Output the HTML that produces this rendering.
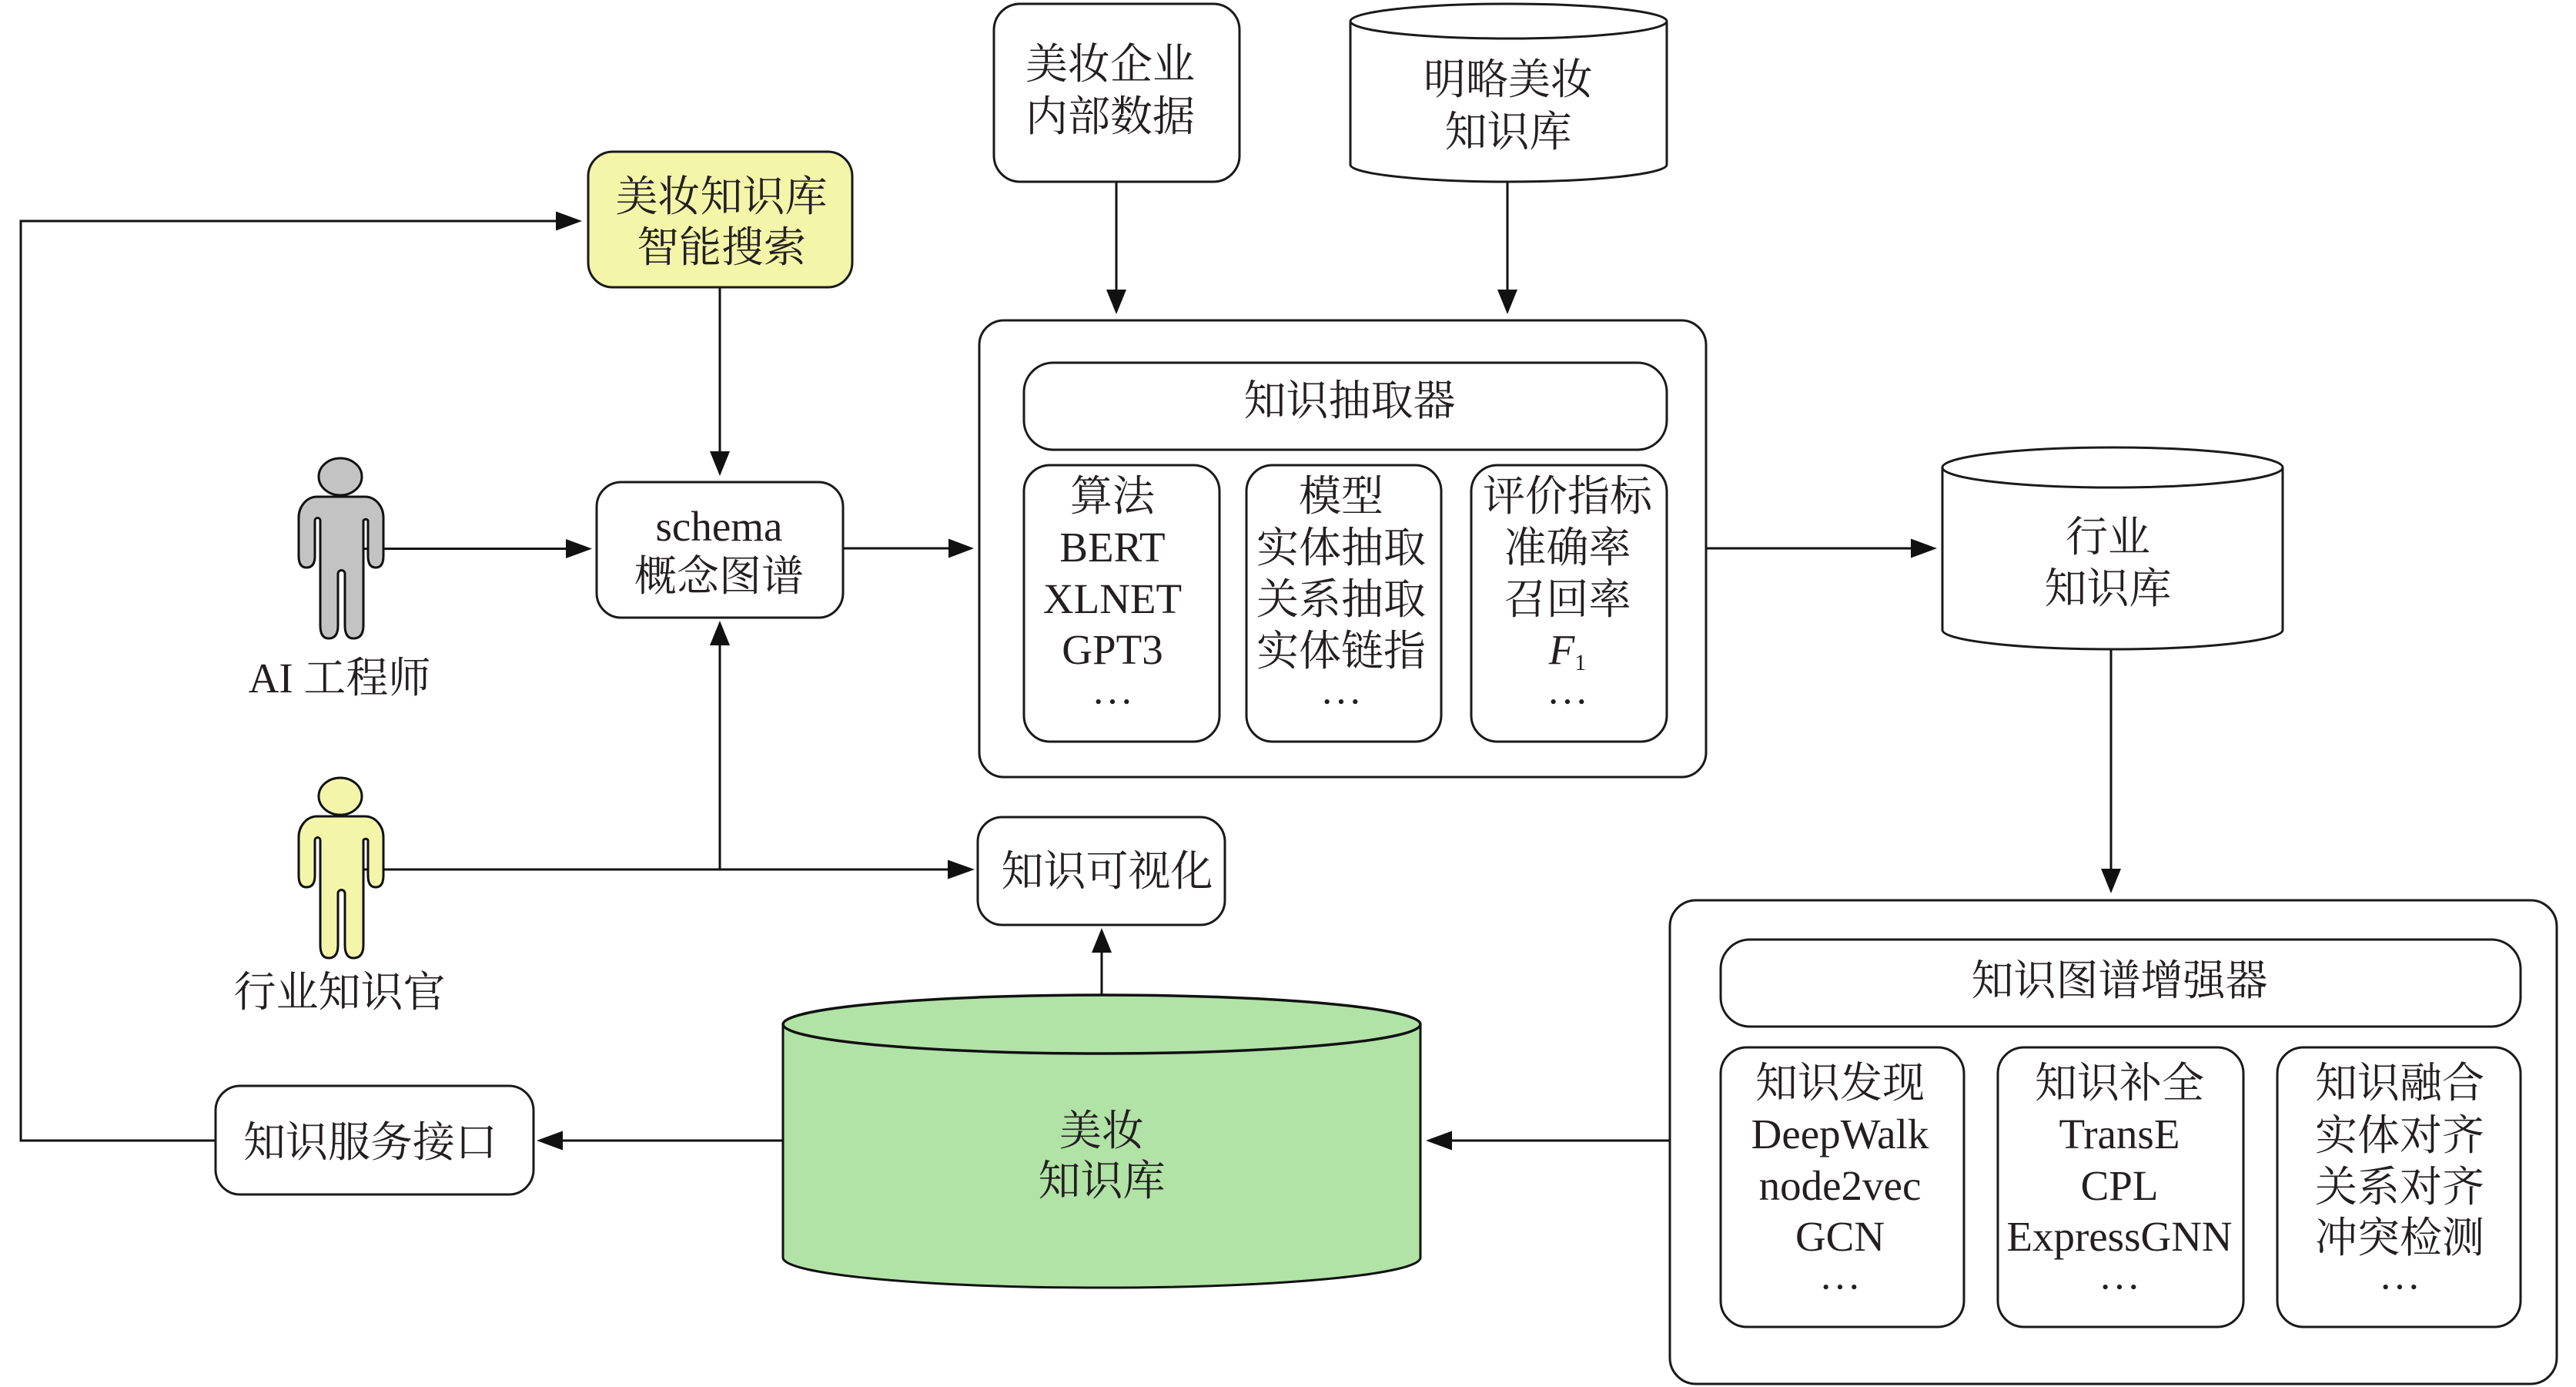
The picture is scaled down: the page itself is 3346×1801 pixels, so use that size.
<!DOCTYPE html>
<html lang="zh">
<head>
<meta charset="utf-8">
<title>美妆知识库架构</title>
<style>
html,body{margin:0;padding:0;background:#fff;width:3346px;height:1801px;overflow:hidden}
svg{display:block}
text{font-family:"Liberation Serif","Noto Serif CJK SC",serif;font-size:55px;fill:#231f20;text-anchor:middle}
.d{font-family:"Noto Serif CJK SC",serif}
.b{fill:#fff;stroke:#1a1a1a;stroke-width:3}
.l{fill:none;stroke:#111;stroke-width:3}
.a{fill:#111;stroke:none}
</style>
</head>
<body>
<svg xmlns="http://www.w3.org/2000/svg" width="3346" height="1801" viewBox="0 0 3346 1801">
<rect width="3346" height="1801" fill="#fff"/>

<!-- connectors -->
<path class="l" d="M280,1481 H27 V287 H725"/>
<polygon class="a" points="756,287 722,274.500 722,299.500"/>
<path class="l" d="M935,373 V590"/>
<polygon class="a" points="935,618 922,586 948,586"/>
<path class="l" d="M472,712.500 H738"/>
<polygon class="a" points="769,712.500 735,700 735,725"/>
<path class="l" d="M1095,712 H1235"/>
<polygon class="a" points="1265,712 1232,699.500 1232,724.500"/>
<path class="l" d="M1450,236 V380"/>
<polygon class="a" points="1450,408 1437,376 1463,376"/>
<path class="l" d="M1958,236 V380"/>
<polygon class="a" points="1958,408 1945,376 1971,376"/>
<path class="l" d="M2216,712 H2485"/>
<polygon class="a" points="2516,712 2482,699.500 2482,724.500"/>
<path class="l" d="M2742,843 V1132"/>
<polygon class="a" points="2742,1160 2729,1128 2755,1128"/>
<path class="l" d="M472,1129 H1235"/>
<polygon class="a" points="1266,1129 1231,1116.500 1231,1141.500"/>
<path class="l" d="M935,1129 V835"/>
<polygon class="a" points="935,806 922,838 948,838"/>
<path class="l" d="M1431,1292 V1234"/>
<polygon class="a" points="1431,1205 1418,1237 1444,1237"/>
<path class="l" d="M1016,1481 H728"/>
<polygon class="a" points="697,1481 731,1468.500 731,1493.500"/>
<path class="l" d="M2169,1481 H1882"/>
<polygon class="a" points="1852,1481 1886,1468.500 1886,1493.500"/>

<!-- yellow search box -->
<rect x="764" y="197" width="343" height="176" rx="32" ry="32" fill="#f3f5a9" stroke="#1a1a1a" stroke-width="3"/>
<text x="937" y="274">美妆知识库</text>
<text x="937" y="340">智能搜索</text>

<!-- schema -->
<rect class="b" x="775" y="626" width="320" height="176" rx="32" ry="32"/>
<text x="934" y="702">schema</text>
<text x="934" y="767">概念图谱</text>

<!-- persons -->
<g fill="#c3c3c3" stroke="#111" stroke-width="3">
<ellipse cx="442" cy="619" rx="28" ry="24"/>
<path d="M412,645 H474 C488,645 498,658 498,672 V722 Q498,737 488,737 Q478,737 478,722 V676 A3.500,3.500 0 0 0 472,676 V812 Q472,829 459,829 Q448,829 448,812 V745 A4.500,4.500 0 0 0 439,745 V812 Q439,829 427,829 Q416,829 416,812 V676 A3.500,3.500 0 0 0 409,676 V722 Q409,737 398,737 Q388,737 388,722 V672 C388,658 398,645 412,645 Z"/>
</g>
<g fill="#f3f5a9" stroke="#111" stroke-width="3" transform="translate(0,415)">
<ellipse cx="442" cy="619" rx="28" ry="24"/>
<path d="M412,645 H474 C488,645 498,658 498,672 V722 Q498,737 488,737 Q478,737 478,722 V676 A3.500,3.500 0 0 0 472,676 V812 Q472,829 459,829 Q448,829 448,812 V745 A4.500,4.500 0 0 0 439,745 V812 Q439,829 427,829 Q416,829 416,812 V676 A3.500,3.500 0 0 0 409,676 V722 Q409,737 398,737 Q388,737 388,722 V672 C388,658 398,645 412,645 Z"/>
</g>
<text x="441" y="899">AI 工程师</text>
<text x="441" y="1307">行业知识官</text>

<!-- top sources -->
<rect class="b" x="1291" y="5" width="319" height="231" rx="34" ry="34"/>
<text x="1442" y="102">美妆企业</text>
<text x="1442" y="170">内部数据</text>

<path class="b" d="M1764,28" style="display:none"/>
<path class="b" d="M1754,28 V214 C1754,226 1850,236 1959.500,236 C2069,236 2165,226 2165,214 V28"/>
<ellipse class="b" cx="1959.500" cy="27.500" rx="205.500" ry="22.500"/>
<text x="1959" y="122">明略美妆</text>
<text x="1959" y="190">知识库</text>

<!-- extractor -->
<rect class="b" x="1272" y="416" width="944" height="593" rx="32" ry="32"/>
<rect class="b" x="1330" y="471" width="835" height="113" rx="38" ry="38"/>
<text x="1753" y="539">知识抽取器</text>

<rect class="b" x="1330" y="604" width="254" height="359" rx="34" ry="34"/>
<rect class="b" x="1619" y="604" width="253" height="359" rx="34" ry="34"/>
<rect class="b" x="1911" y="604" width="254" height="359" rx="34" ry="34"/>

<text x="1445" y="663">算法</text>
<text x="1445" y="729">BERT</text>
<text x="1445" y="796">XLNET</text>
<text x="1445" y="862">GPT3</text>
<text class="d" x="1445" y="932">…</text>

<text x="1742" y="663">模型</text>
<text x="1742" y="730">实体抽取</text>
<text x="1742" y="797">关系抽取</text>
<text x="1742" y="864">实体链指</text>
<text class="d" x="1742" y="932">…</text>

<text x="2036" y="663">评价指标</text>
<text x="2036" y="730">准确率</text>
<text x="2036" y="797">召回率</text>
<text x="2036" y="862"><tspan font-style="italic">F</tspan><tspan font-size="30" dy="8">1</tspan></text>
<text class="d" x="2036" y="932">…</text>

<!-- industry kb -->
<path class="b" d="M2535,607" style="display:none"/>
<path class="b" d="M2523,607 V818 C2523,832 2625,843 2744,843 C2863,843 2965,832 2965,818 V607"/>
<ellipse class="b" cx="2744" cy="607" rx="221" ry="26"/>
<text x="2738" y="716">行业</text>
<text x="2738" y="783">知识库</text>

<!-- visualization -->
<rect class="b" x="1278" y="1066" width="1" height="1" style="display:none"/>
<rect class="b" x="1278" y="1066" width="1" height="1" style="display:none"/>
<rect class="b" x="1278" y="1066" width="1" height="1" style="display:none"/>
<rect class="b" x="1277" y="1066" width="1" height="1" style="display:none"/>
<rect class="b" x="1277" y="1066" width="1" height="1" style="display:none"/>
<rect class="b" x="1277" y="1066" width="1" height="1" style="display:none"/>
<rect class="b" x="1277" y="1066" width="1" height="1" style="display:none"/>
<rect class="b" x="1277" y="1066" width="1" height="1" style="display:none"/>
<rect class="b" x="1277" y="1066" width="1" height="1" style="display:none"/>
<rect class="b" x="1277" y="1066" width="1" height="1" style="display:none"/>
<rect class="b" x="1270" y="1061" width="321" height="140" rx="32" ry="32"/>
<text x="1438" y="1150">知识可视化</text>

<!-- beauty kb -->
<path d="M1017,1329 V1633 C1017,1655 1204,1672 1431,1672 C1658,1672 1845,1655 1845,1633 V1329" fill="#b1e2a6" stroke="#111" stroke-width="3"/>
<ellipse cx="1431" cy="1330" rx="414" ry="38" fill="#b1e2a6" stroke="#111" stroke-width="3.500"/>
<text x="1431" y="1487">美妆</text>
<text x="1431" y="1552">知识库</text>

<!-- service -->
<rect class="b" x="280" y="1418" width="1" height="1" style="display:none"/>
<rect class="b" x="280" y="1410" width="413" height="141" rx="32" ry="32"/>
<text x="481" y="1502">知识服务接口</text>

<!-- enhancer -->
<rect class="b" x="2169" y="1174" width="1" height="1" style="display:none"/>
<rect class="b" x="2169" y="1174" width="1" height="1" style="display:none"/>
<rect class="b" x="2169" y="1169" width="1152" height="628" rx="34" ry="34"/>
<rect class="b" x="2235" y="1220" width="1039" height="113" rx="38" ry="38"/>
<text x="2753" y="1292">知识图谱增强器</text>

<rect class="b" x="2235" y="1360" width="316" height="363" rx="34" ry="34"/>
<rect class="b" x="2595" y="1360" width="319" height="363" rx="34" ry="34"/>
<rect class="b" x="2958" y="1360" width="316" height="363" rx="34" ry="34"/>

<text x="2390" y="1425">知识发现</text>
<text x="2390" y="1491">DeepWalk</text>
<text x="2390" y="1558">node2vec</text>
<text x="2390" y="1624">GCN</text>
<text class="d" x="2390" y="1692">…</text>

<text x="2753" y="1425">知识补全</text>
<text x="2753" y="1491">TransE</text>
<text x="2753" y="1558">CPL</text>
<text x="2753" y="1624">ExpressGNN</text>
<text class="d" x="2753" y="1692">…</text>

<text x="3117" y="1425">知识融合</text>
<text x="3117" y="1493">实体对齐</text>
<text x="3117" y="1560">关系对齐</text>
<text x="3117" y="1626">冲突检测</text>
<text class="d" x="3117" y="1692">…</text>
</svg>
</body>
</html>
